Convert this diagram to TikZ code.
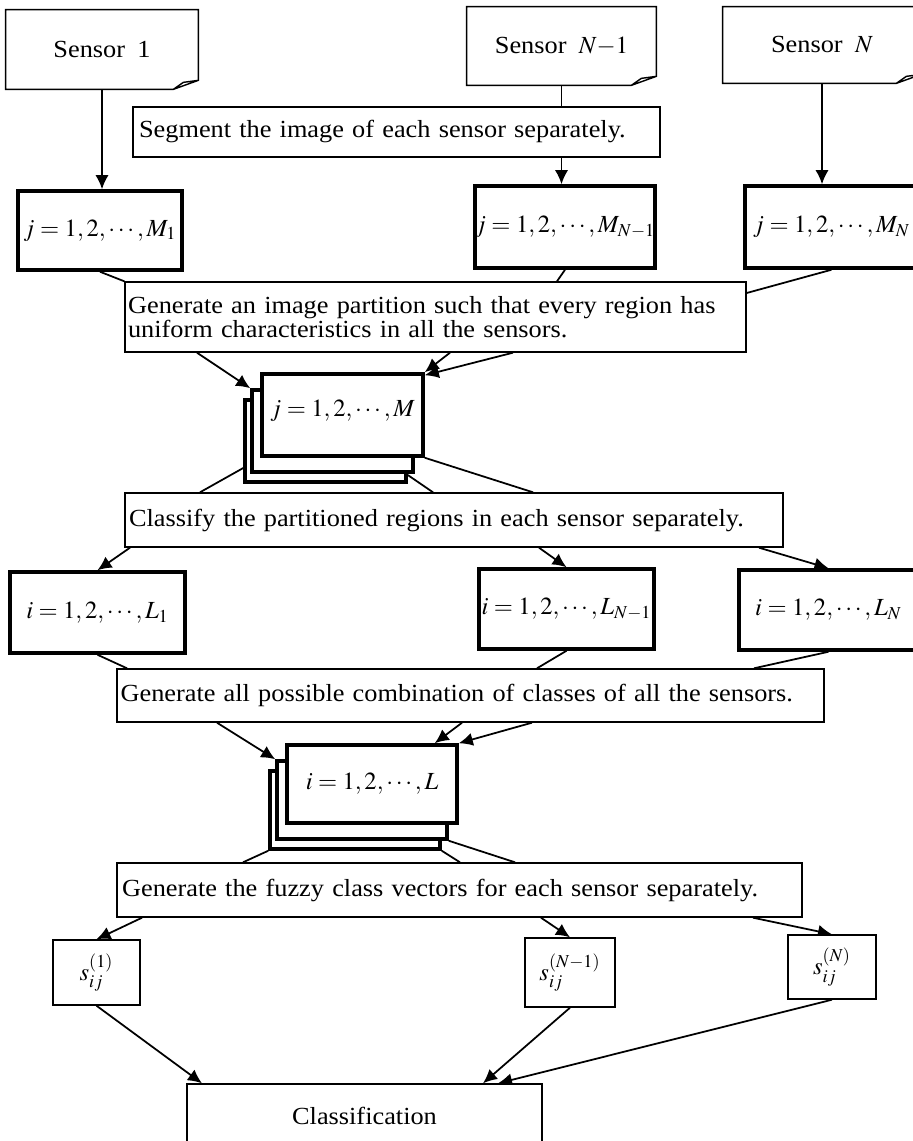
\documentclass[tikz,border=0pt]{standalone}
\usepackage{mathptmx}
\usepackage{fontspec}
\setmainfont{Liberation Serif}[FakeStretch=1.07]
\usetikzlibrary{arrows.meta,backgrounds}

\newcommand{\pxu}{0.02cm}
\newcommand{\widesp}{\spaceskip=7pt plus 1pt minus 1pt\relax}
\tikzset{
  every node/.style={font=\fontsize{14}{12.5}\selectfont\widesp, inner sep=0pt},
  sz/.style 2 args={minimum width=#1*\pxu, minimum height=#2*\pxu},
  textbox/.style={draw, line width=0.8pt, fill=white, align=left, inner xsep=0.06cm},
  ibox/.style={draw, line width=2pt, fill=white},
  sbox/.style={draw, line width=0.8pt, fill=white},
  conn/.style={line width=1pt},
  arr/.style={conn, -{Latex[length=8pt,width=7.5pt]}}
}

\begin{document}
\begin{tikzpicture}[x=\pxu, y=-\pxu]
\useasboundingbox (0,0) rectangle (912,1141);

% sensors
\node[sz={192}{79}] (sen1) at (102,49.5) {Sensor 1};
\node[sz={189}{78}] (senNm1) at (561.5,46) {Sensor $N{-}1$};
\node[sz={198}{76}] (senN) at (822,45) {Sensor $N$};
\foreach \sn in {sen1,senNm1,senN}
  \draw[line width=0.8pt] (\sn.north west) -- (\sn.north east) -- ([yshift=0.18cm]\sn.south east)
    -- ([xshift=-0.5cm]\sn.south east) -- (\sn.south west) -- cycle
    ([xshift=-0.5cm]\sn.south east) -- ([xshift=-0.3cm,yshift=0.14cm]\sn.south east) -- ([yshift=0.18cm]\sn.south east);

\node[textbox, sz={527}{50}, text width=10.3cm] (seg) at (396.5,132) {Segment the image of each sensor separately.};

\node[ibox, sz={164}{79}] (m1) at (100,230.5) {$j=1,2,\cdots,M_1$};
\node[ibox, sz={170}{82}] (mNm1) at (565,227) {$j=1,2,\cdots,M_{N-1}$};
\node[ibox, sz={173}{82}] (mN) at (831.5,227) {$j=1,2,\cdots,M_N$};

\node[textbox, sz={621}{70}, text width=12.3cm] (part) at (435.5,317) {Generate an image partition such that every region has\\uniform characteristics in all the sensors.};

% stacked regions
\node[ibox, sz={161}{82}] (mb) at (325.5,441) {};
\node[ibox, sz={161}{82}] (mm) at (332.5,431) {};
\node[ibox, sz={161}{82}] (mf) at (342.5,415) {\raisebox{0.25cm}{$j=1,2,\cdots,M$}};

\node[textbox, sz={658}{54}, text width=13cm] (cls) at (454,520) {Classify the partitioned regions in each sensor separately.};

\node[ibox, sz={175}{81}] (l1) at (97.5,612.5) {$i=1,2,\cdots,L_1$};
\node[ibox, sz={175}{80}] (lNm1) at (566.5,609) {$i=1,2,\cdots,L_{N-1}$};
\node[ibox, sz={179}{80}] (lN) at (828.5,610) {$i=1,2,\cdots,L_N$};

\node[textbox, sz={707}{53}, text width=14cm] (comb) at (470.5,695.5) {Generate all possible combination of classes of all the sensors.};

% stacked classes
\node[ibox, sz={170}{78}] (lb) at (355,810) {};
\node[ibox, sz={170}{78}] (lm) at (362,800) {};
\node[ibox, sz={170}{78}] (lf) at (372,784) {$i=1,2,\cdots,L$};

\node[textbox, sz={685}{54}, text width=13.5cm] (fuz) at (459.5,890) {Generate the fuzzy class vectors for each sensor separately.};

\node[sbox, sz={87}{65}] (s1) at (96.5,972.5) {$s_{ij}^{(1)}$};
\node[sbox, sz={90}{69}] (sNm1) at (570,972.5) {$s_{ij}^{(N-1)}$};
\node[sbox, sz={88}{64}] (sN) at (832,967) {$s_{ij}^{(N)}$};

\node[sbox, sz={355}{64}] (clf) at (364.5,1116) {Classification};

\begin{scope}[on background layer]
\fill[white] (0,0) rectangle (912,1141);
\draw[arr] (sen1.south) -- (sen1.south |- m1.north);
\draw[arr] (senNm1.south) -- (senNm1.south |- mNm1.north);
\draw[arr] (senN.south) -- (senN.south |- mN.north);
\draw[conn] (m1.south) -- (part.north west);
\draw[conn] (mNm1.south) -- (557,0 |- part.north);
\draw[conn] (mN.south) -- (part.east |- 0,293);

\draw[arr] (197,0 |- part.south) -- (mm.north west);
\draw[arr] (450,0 |- part.south) -- (mf.north east);
\draw[arr] (513,0 |- part.south) -- ([yshift=-0.06cm]mf.north east);
\draw[conn] (mb.west |- 0,468) -- (200,0 |- cls.north);
\draw[conn] (mb.east |- 0,475) -- (433,0 |- cls.north);
\draw[conn] (mf.south east) -- (533,0 |- cls.north);

\draw[arr] (130,0 |- cls.south) -- (l1.north);
\draw[arr] (539,0 |- cls.south) -- (lNm1.north);
\draw[arr] (759,0 |- cls.south) -- (lN.north);
\draw[conn] (l1.south) -- (127,0 |- comb.north);
\draw[conn] (lNm1.south) -- (537,0 |- comb.north);
\draw[conn] (lN.south) -- (754,0 |- comb.north);

\draw[arr] (217,0 |- comb.south) -- (lm.north west);
\draw[arr] (462,0 |- comb.south) -- ([xshift=-0.48cm]lf.north east);
\draw[arr] (532,0 |- comb.south) -- (lf.north east);
\draw[conn] (lb.south west) -- (243,0 |- fuz.north);
\draw[conn] (lb.south east) -- (460,0 |- fuz.north);
\draw[conn] (lm.south east) -- (515,0 |- fuz.north);

\draw[arr] (142,0 |- fuz.south) -- (s1.north);
\draw[arr] (541,0 |- fuz.south) -- (sNm1.north);
\draw[arr] (753,0 |- fuz.south) -- (sN.north);
\draw[arr] (s1.south) -- (202,0 |- clf.north);
\draw[arr] (sNm1.south) -- (483,0 |- clf.north);
\draw[arr] (sN.south) -- (498,0 |- clf.north);
\end{scope}
\end{tikzpicture}
\end{document}
